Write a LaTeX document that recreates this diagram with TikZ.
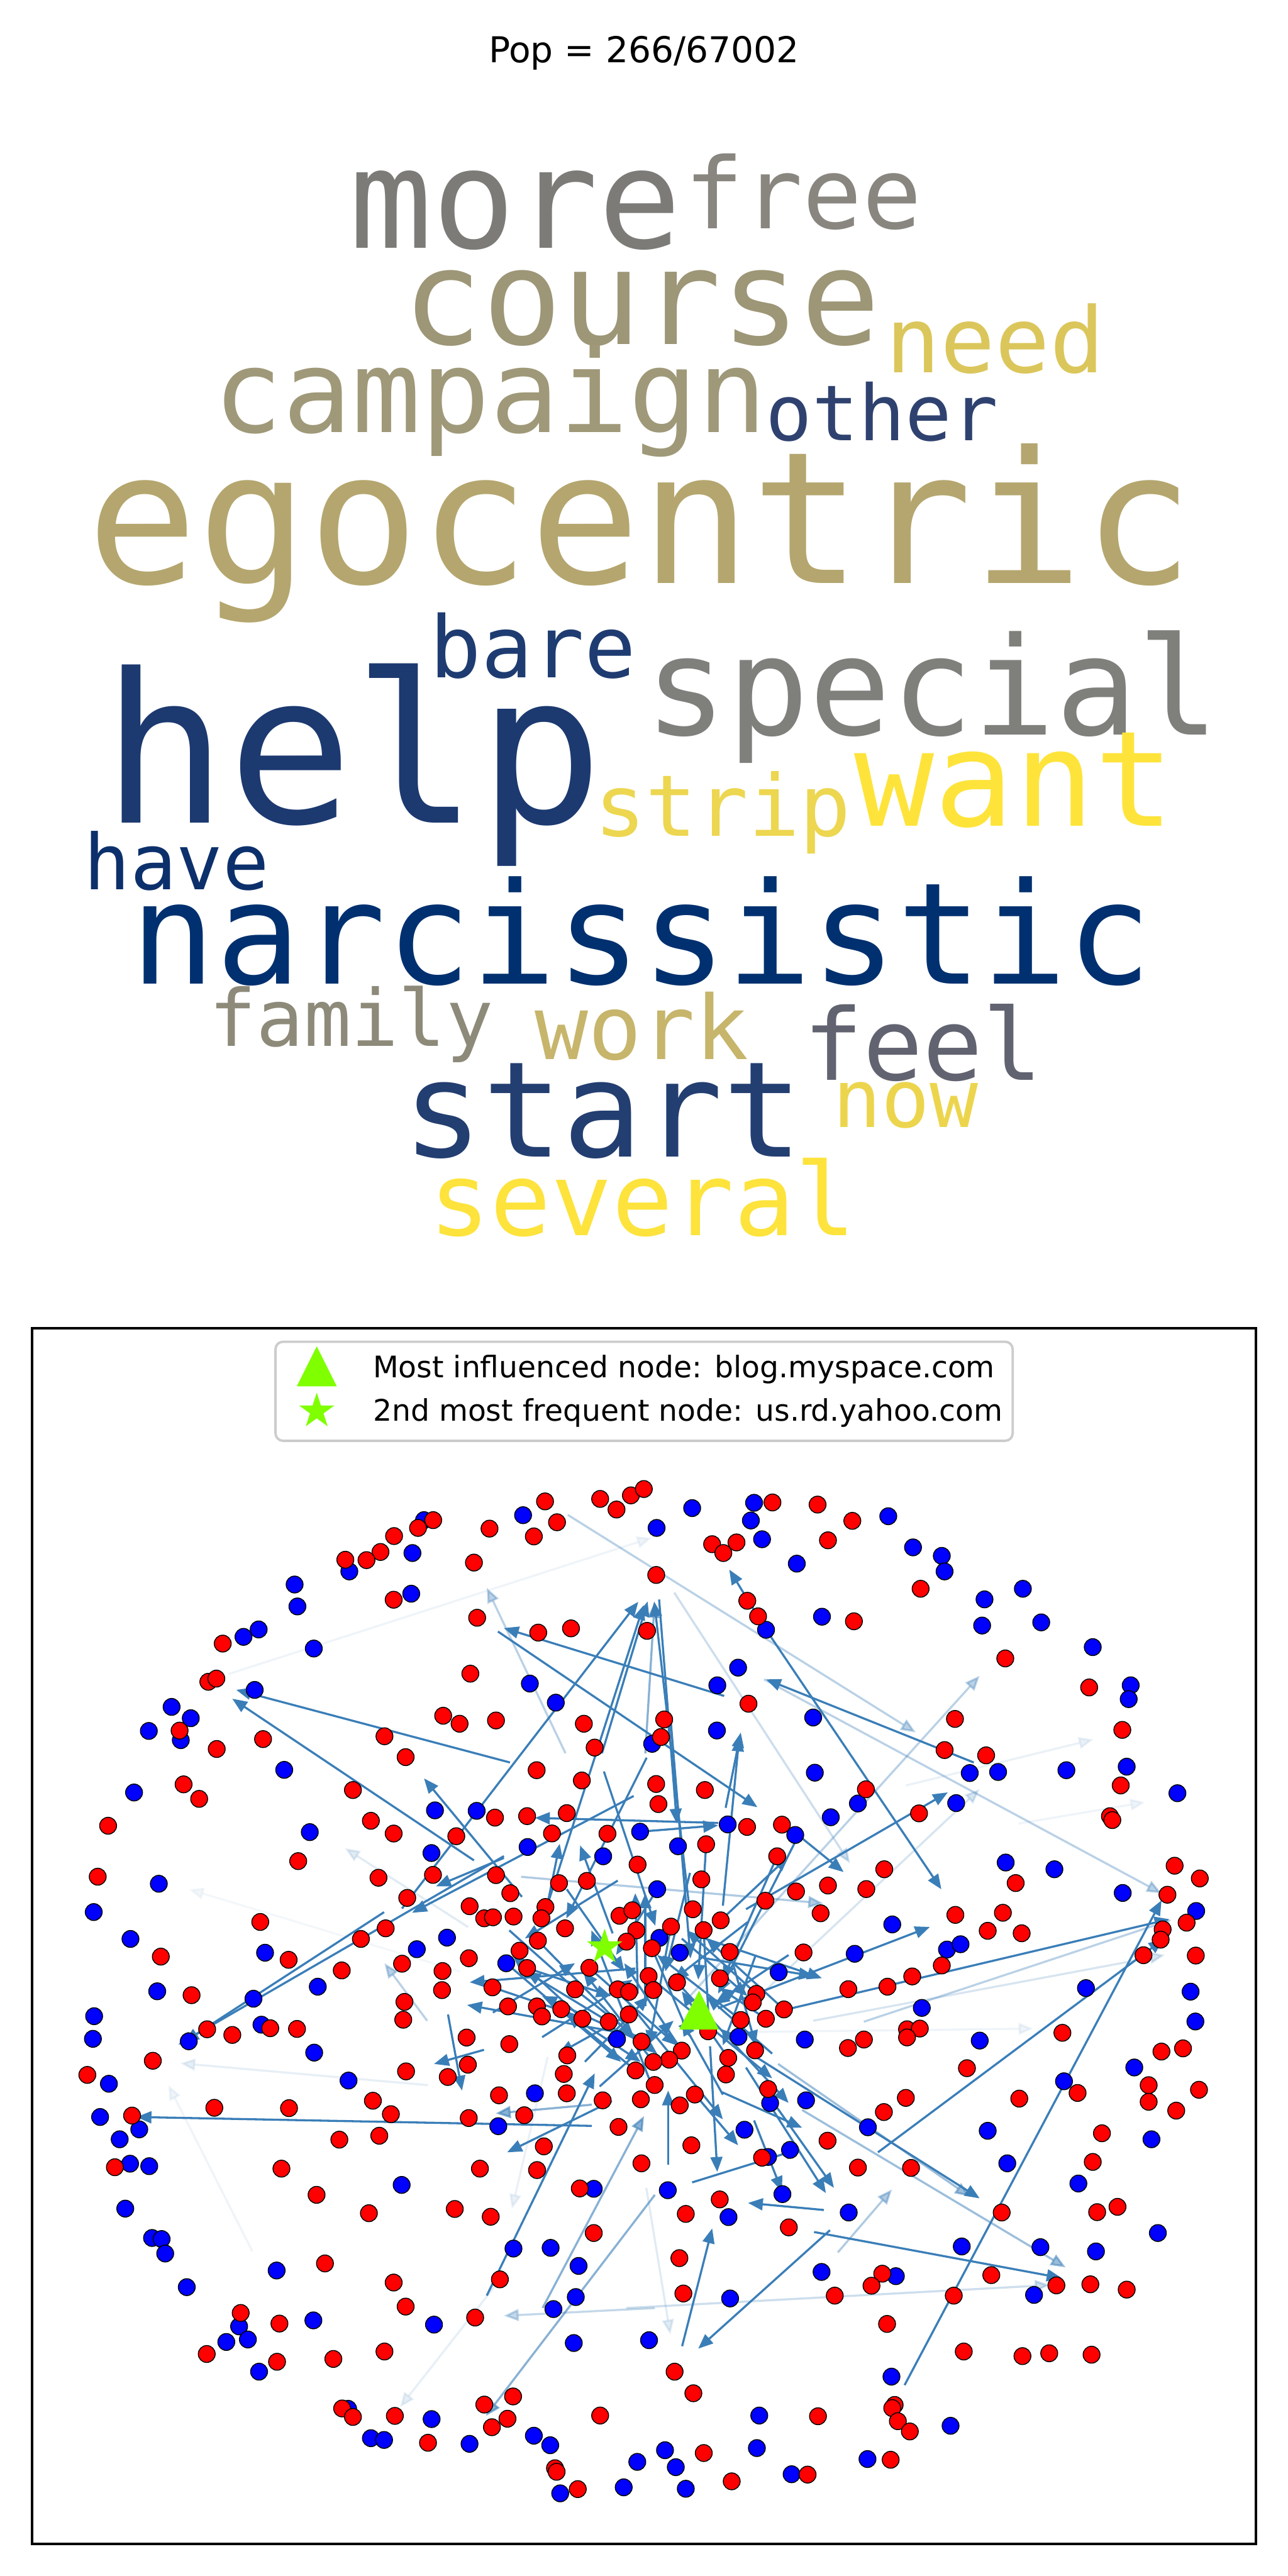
\documentclass[tikz,border=0pt]{standalone}
\usepackage{fontspec}
\setmainfont{DejaVu Sans}
\newfontfamily\cloudfont{DejaVu Sans Mono}
\usepackage{tikz}
\usetikzlibrary{arrows.meta, shapes.geometric}
\definecolor{edgeblue}{HTML}{3A7EB8}
\definecolor{hubgreen}{HTML}{7FFF00}
\definecolor{legedge}{HTML}{CCCCCC}
\definecolor{cMore}{HTML}{7C7B78}
\definecolor{cFree}{HTML}{898680}
\definecolor{cCourse}{HTML}{9D9677}
\definecolor{cNeed}{HTML}{DBC65B}
\definecolor{cCampaign}{HTML}{9F9979}
\definecolor{cOther}{HTML}{2F426F}
\definecolor{cEgo}{HTML}{B4A66E}
\definecolor{cBare}{HTML}{1E3C71}
\definecolor{cSpecial}{HTML}{7F7F7C}
\definecolor{cHelp}{HTML}{1C3970}
\definecolor{cStrip}{HTML}{EDD650}
\definecolor{cWant}{HTML}{FEE43A}
\definecolor{cHave}{HTML}{0C306B}
\definecolor{cNarc}{HTML}{00306F}
\definecolor{cFamily}{HTML}{8D8A7A}
\definecolor{cWork}{HTML}{C6B56B}
\definecolor{cFeel}{HTML}{626370}
\definecolor{cStart}{HTML}{233E70}
\definecolor{cNow}{HTML}{ECD54D}
\definecolor{cSeveral}{HTML}{FDE33C}
\newcommand\wsize[1]{\cloudfont\fontsize{#1}{#1}\selectfont}
\tikzset{
  word/.style     = {inner sep=0pt, anchor=base},
  rdot/.style     = {circle, draw=black, line width=0.3pt, fill=red,
                     minimum size=2mm, inner sep=0pt},
  bdot/.style     = {circle, draw=black, line width=0.3pt, fill=blue,
                     minimum size=2mm, inner sep=0pt},
  edge/.style     = {-{Triangle[length=5pt,width=4pt]}, line width=0.7pt,
                     draw=edgeblue},
  legbox/.style   = {rectangle, rounded corners=2.5pt, draw=legedge, line width=0.8pt,
                     fill=white, minimum width=8.722cm, minimum height=1.172cm,
                     inner sep=0pt},
  legtext/.style  = {anchor=base west, inner sep=0pt, font=\fontsize{10}{12}\selectfont},
  starmark/.style = {star, star points=5, star point ratio=2.618, fill=hubgreen,
                     inner sep=0pt, minimum size=4.4mm},
}

\begin{document}
\begin{tikzpicture}[x=0.019439cm, y=-0.019439cm]

  \fill[white] (0,0) rectangle (784,1568);
  \useasboundingbox (0,0) rectangle (784,1568);

  \node[anchor=base, inner sep=0pt, font=\fontsize{12}{14}\selectfont] (title) at (392,38) {Pop = 266/67002};

  \node[word, text=cMore, font=\wsize{46.5}] (more) at (313.8,151) {more};
  \node[word, text=cFree, font=\wsize{33.2}] (free) at (488.8,139) {free};
  \node[word, text=cCourse, font=\wsize{44.5}] (course) at (390.5,209.5) {course};
  \node[word, text=cNeed, font=\wsize{30.6}] (need) at (605.8,227) {need};
  \node[word, text=cCampaign, font=\wsize{38.7}] (campaign) at (298.3,263) {campaign};
  \node[word, text=cOther, font=\wsize{26}] (other) at (537,268) {other};
  \node[word, text=cEgo, font=\wsize{61.9}] (egocentric) at (390,355) {egocentric};
  \node[word, text=cBare, font=\wsize{28.8}] (bare) at (324.5,412.5) {bare};
  \node[word, text=cSpecial, font=\wsize{45.9}] (special) at (567.5,447.4) {special};
  \node[word, text=cHelp, font=\wsize{70.1}] (help) at (215,501) {help};
  \node[word, text=cStrip, font=\wsize{28.7}] (strip) at (440,509) {strip};
  \node[word, text=cWant, font=\wsize{44.7}] (want) at (617.5,503) {want};
  \node[word, text=cHave, font=\wsize{25.9}] (have) at (107.5,541.3) {have};
  \node[word, text=cNarc, font=\wsize{47.6}] (narcissistic) at (390.5,598.8) {narcissistic};
  \node[word, text=cFamily, font=\wsize{26.5}] (family) at (213.8,636.8) {family};
  \node[word, text=cWork, font=\wsize{29.9}] (work) at (390.8,644.8) {work};
  \node[word, text=cFeel, font=\wsize{33.5}] (feel) at (561.8,657.4) {feel};
  \node[word, text=cStart, font=\wsize{44.8}] (start) at (367,704) {start};
  \node[word, text=cNow, font=\wsize{27.1}] (now) at (551.3,686) {now};
  \node[word, text=cSeveral, font=\wsize{34.1}] (several) at (391.3,752) {several};

  \draw[line width=0.8pt] (19.5,808.5) rectangle (764.5,1548.6);

  \foreach \tx/\ty/\hx/\hy/\o [count=\k] in {
    310.4/1072.8/143.8/1028.6/1, 288.5/1132.4/141.4/1034.0/1, 440.8/1032.3/306.7/991.0/1,
    303.1/993.1/461/1100/1, 244.7/1161.7/388.5/975.0/1, 331.0/1166.4/391.8/977.0/1,
    317.7/1154.6/258.1/1082.5/1, 385.7/1093.2/250.8/1164.3/1, 306.7/1130.9/265.4/1148.2/1,
    306.7/1129.8/108.6/1244.5/1, 233.8/1163.9/112/1243/1, 437.1/1109.6/325.6/1106.5/1,
    376/1144.7/319.5/1179.9/1, 393.6/1069.9/344.7/1167.7/1, 333.5/1157.8/340.7/1122.3/1,
    360.2/1294.0/83.1/1288.6/1, 372.4/1278.9/308.7/1310.1/1, 294.6/1247.7/264.2/1256.3/1,
    272.7/1226.2/281.2/1272.5/1, 534.4/1310.1/708.2/1180.4/1, 550.6/1451.8/707/1156.7/1,
    477.2/1223.5/711.8/1168.2/1, 495.5/1358.6/646.2/1386.6/1, 505.2/1357.5/425/1429.6/1,
    415.2/1428.1/433.5/1356.4/1, 501.5/1345.2/455.3/1340.9/1, 421.3/1328.4/487/1308/1,
    406.7/1317.7/406.7/1272.5/1, 432.2/1245.5/436.6/1322/1, 454.1/1258.5/502.7/1334.9/1,
    466.3/1273.5/507.6/1331.7/1, 439.5/1273.5/488.2/1295.1/1, 420.1/1271.4/449.3/1305.8/1,
    456.6/1249.8/596.3/1338.1/1, 459/1290.7/476/1333.8/1, 437.1/1222.4/566/1172.9/1,
    427.4/1179.4/500.3/1204.1/1, 592.7/1072.8/466.3/1022.2/1, 466.3/992/443.9/955.4/1,
    466.3/992/573/1150/1, 485.7/1116.9/513.5/1139.5/1, 454.1/1162.1/576.9/1091/1,
    440/1160/450/1057/1, 420/1165/398.2/974.8/1, 296.3/1397.3/362/1262/1,
    401.2/973.6/412/1110/1, 389.8/1114.9/437.1/1111.1/1, 486.8/1115.7/437.1/1213.5/1,
    441.7/1100.4/450.9/1054.6/1, 386.7/1198.2/285.9/1206.6/1, 389.8/1239.5/284.3/1220.4/1,
    429/1192/495.4/1202.8/1, 372.9/1176.8/353.1/1123.3/1, 388.2/1213.5/386.7/1152.4/1,
    392.8/1221.1/392.8/1152.4/1, 408.1/1045.4/420.3/1192.1/1, 367.6/1078.3/398.9/1172.2/1,
    366.4/1067.2/394.2/974.8/1,
    398.6/1336/295.8/1470.5/0.6, 330.3/1404.8/392/1288/0.6, 392.8/1067.2/398.4/975.7/0.6,
    360.2/1281.1/301.8/1286.4/0.6,
    465.1/1022.2/707/1152.4/0.35, 345.6/922.1/557.4/1054.5/0.35, 488.2/1284.3/648.6/1380.1/0.5,
    473.6/1256.3/590.3/1337/0.5, 510/1371/542.9/1332.7/0.4, 420/1215/596.3/1020/0.35,
    344.2/1067.2/296.3/966.5/0.35, 398.6/1404.9/306.7/1409.6/0.3, 410.4/969.4/517.3/1134.1/0.25,
    381.2/1404.9/638.9/1390.9/0.25, 317.2/1142.4/501/1158.5/0.4, 459/1218/596.3/1089/0.2,
    525.8/1230.6/713/1168.6/0.35, 495/1230/709/1190/0.2,
    139/1019/396.7/936/0.08, 260.5/1269.2/109.8/1255.9/0.12, 153.6/1370.4/102.5/1269.2/0.08,
    304.3/1387.6/243.5/1465.2/0.12, 285/1173/210/1125/0.15, 260/1230/234/1195/0.35,
    393.4/1331.7/408/1420.9/0.15, 442/1237/629/1234.8/0.08, 551.4/1086.8/665.6/1058.8/0.1,
    620/1110/697/1097/0.08, 333.4/1252/311.6/1344.6/0.1, 280/1200/115/1150/0.06,
    386.9/1260.3/345/1226/1, 397.7/1255.1/355/1200/1, 415/1248.2/380/1195/1,
    443.2/1252.6/415/1212/1, 390.5/1242.7/330/1215/1, 466.2/1228.8/438/1210/1,
    450.9/1229.5/400/1190/1, 370.5/1230.6/320/1200/1, 354.5/1228.8/312/1190/1,
    477.2/1223.1/430/1180/1, 460.4/1213.6/418/1175/1, 341.6/1223/390/1255/1,
    350/1210.9/400/1250/1, 358.7/1197.8/412/1245/1, 327.4/1181.2/385/1240/1,
    308.2/1195/378/1255/1, 396.8/1185.8/420/1240/1, 428.3/1174.8/432/1240/1,
    408.4/1172.7/395/1245/1, 444.2/1188.1/460/1245/1, 473/1129.9/440/1205/1,
    429.8/1122.6/425/1205/1, 320.8/1197.9/372/1215/1, 299.8/1209.7/360/1230/1,
    438.7/1168.9/480/1130/1, 382.7/1226.2/340/1250/1, 394.8/1202.8/470/1265/1,
    412.1/1206.6/480/1280/1, 376/1210.9/440/1290/1,
    356/1255/395/1215/1, 330/1240/385/1205/1, 470/1250/430/1215/1, 300/1225/350/1195/1,
    455/1170/410/1205/1, 345/1150/380/1200/1, 420/1140/405/1200/1, 480/1190/435/1220/1,
    365/1270/410/1230/1, 440/1275/415/1230/1, 400/1150/375/1190/1, 310/1175/355/1215/1,
    395/1265/360/1175/1, 460/1190/440/1245/1, 415/1180/455/1215/1}{
    \coordinate (t\k) at (\tx,\ty);
    \coordinate (h\k) at (\hx,\hy);
    \draw[edge, opacity=\o] (t\k) -- (h\k);
  }

  \begin{scope}[shift={(17.42,893.0)}, xscale=0.2431, yscale=0.2153]
    \foreach \x/\y [count=\i] in {1238/136, 990/150, 961/243, 803/295, 666/332, 673/394,
      958/358, 538/480, 576/459, 714/513, 1255/612, 566/630, 1320/666, 358/678, 406/710,
      301/746, 381/772, 640/856, 264/920, 704/1032, 326/1178, 163/1258, 255/1334, 592/1373,
      972/1363, 724/1469, 322/1482, 563/1503}
      \node[bdot] (AB\i) at (\x,\y) {};
    \foreach \x/\y [count=\i] in {1293/97, 1431/90, 1472/120, 1508/80, 1323/156, 1265/196,
      1154/174, 1013/150, 975/172, 915/195, 881/240, 846/263, 793/262, 1115/270, 914/375,
      1123/426, 1276/468, 1358/456, 486/499, 1106/584, 450/607, 470/598, 378/745, 471/797,
      587/769, 1038/703, 891/761, 944/820, 388/897, 427/938, 812/913, 199/1014, 857/1000,
      914/1036, 675/1114, 876/1161, 948/1218, 173/1158, 580/1286, 331/1384, 651/1393,
      894/1304, 832/1334, 784/1423, 935/1404, 408/1493, 941/1512}
      \node[rdot] (AR\i) at (\x,\y) {};
  \end{scope}

  \begin{scope}[shift={(381.2,893.0)}, xscale=0.2431, yscale=0.2153]
    \foreach \x/\y [count=\i] in {165/116, 76/172, 320/101, 312/151, 656/139, 340/204,
      718/227, 790/251, 797/295, 427/273, 993/344, 897/374, 891/448, 1039/439, 350/460,
      490/423, 1168/509, 1263/617, 1258/656, 280/567, 228/617, 468/708, 860/865, 931/862,
      1102/857, 1253/847, 1380/922, 580/951, 826/950, 512/990, 950/1118, 1072/1137,
      1243/1204, 1427/1255, 666/1293, 803/1364, 837/1349, 572/1376, 1151/1473, 1413/1483,
      740/1529}
      \node[bdot] (BB\i) at (\x,\y) {};
    \foreach \x/\y [count=\i] in {44/62, 366/100, 479/106, 566/152, 505/207, 215/218,
      276/213, 243/243, 75/305, 737/344, 303/378, 330/422, 570/436, 52/463, 949/541,
      1159/623, 306/669, 823/712, 1242/743, 797/800, 901/815, 1238/900, 600/911, 733/979,
      1211/987, 1217/998, 1373/1127, 1436/1163, 975/1176, 646/1137, 505/1183, 601/1193,
      1355/1209, 1403/1288, 1343/1307, 1338/1336, 1295/1380, 1426/1381, 824/1266, 943/1260,
      905/1311, 990/1318, 790/1409, 716/1440, 654/1469, 556/1476}
      \node[rdot] (BR\i) at (\x,\y) {};
  \end{scope}

  \begin{scope}[shift={(17.42,1219.7)}, xscale=0.2431, yscale=0.2153]
    \foreach \x/\y [count=\i] in {164/35, 161/99, 201/226, 583/59, 401/106, 715/138,
      801/217, 179/320, 277/355, 228/383, 254/452, 302/459, 934/512, 242/579, 309/662,
      333/665, 342/706, 396/801, 621/754, 527/912, 495/956, 549/949, 713/895, 577/1040,
      1015/907, 1214/692, 1307/690, 1377/741, 1370/829, 1314/863, 1415/523, 1365/959,
      1176/346, 800/1145, 1009/1174, 857/1228, 890/1233, 1104/1244, 1265/1221, 1306/1248,
      1331/1384, 1490/1367, 1524/1295}
      \node[bdot] (CB\i) at (\x,\y) {};
    \foreach \x/\y [count=\i] in {147/201, 311/161, 447/72, 510/88, 605/69, 672/71,
      938/45, 945/191, 862/274, 907/312, 259/316, 465/294, 652/295, 778/384, 878/373,
      216/462, 633/466, 721/540, 852/592, 742/734, 914/788, 944/856, 531/874, 628/904,
      446/990, 622/1012, 763/1004, 891/983, 1118/887, 1067/580, 1157/602, 1130/466,
      1273/470, 1180/779, 1415/648, 1380/522, 1102/323, 1241/315, 1290/403, 1477/348,
      785/1144, 812/1168, 917/1165, 1000/1241, 1141/1133, 1213/1110, 1199/1173, 1160/1197,
      1318/1313, 1322/1323, 1375/1372, 1431/1164}
      \node[rdot] (CR\i) at (\x,\y) {};
  \end{scope}

  \begin{scope}[shift={(381.2,1219.7)}, xscale=0.2431, yscale=0.2153]
    \foreach \x/\y [count=\i] in {1425/50, 885/104, 1272/180, 1096/219, 905/359,
      1315/383, 605/349, 954/451, 1132/508, 355/433, 410/413, 296/356, 104/527, 256/603,
      391/538, 557/590, 1331/648, 840/686, 1037/688, 1176/700, 260/833, 489/758, 675/770,
      1021/823, 57/951, 664/1054, 812/1193, 333/1164, 97/1262, 124/1310, 327/1256,
      414/1330, 604/1287, 149/1371}
      \node[bdot] (DB\i) at (\x,\y) {};
    \foreach \x/\y [count=\i] in {1092/82, 853/182, 703/72, 735/70, 703/95, 595/101,
      555/125, 1340/135, 1394/126, 1308/230, 1308/277, 1434/243, 1377/302, 1130/252,
      984/268, 700/266, 645/306, 1191/366, 504/387, 1168/447, 713/464, 580/463, 38/451,
      163/400, 340/435, 234/553, 149/594, 407/632, 940/590, 1179/589, 1230/574, 133/719,
      143/819, 641/763, 614/797, 522/825, 914/767, 820/825, 1077/796, 1162/793, 1253/808,
      653/905, 845/983, 992/996, 1059/988, 1165/992, 121/1040, 168/1101, 672/1134,
      666/1143, 680/1180, 710/1209, 480/1166, 194/1270, 264/1350, 454/1331, 662/1289}
      \node[rdot] (DR\i) at (\x,\y) {};
  \end{scope}

  \begin{scope}[shift={(261.4,1045.4)}, scale=0.15281]
    \foreach \x/\y [count=\i] in {887/105, 1145/52, 1535/220, 22/370, 188/372, 391/516,
      839/455, 1188/426, 1457/468, 990/513, 692/553, 8/540, 907/684, 70/877, 916/878,
      997/937, 306/979, 1391/1015, 1231/1272, 1495/1283, 747/1281, 420/1497, 1357/1536,
      1500/1525}
      \node[bdot] (EB\i) at (\x,\y) {};
    \foreach \x/\y [count=\i] in {120/25, 265/12, 615/25, 935/8, 922/78, 658/120,
      427/210, 607/251, 903/265, 912/345, 1097/289, 261/399, 389/393, 547/381, 107/473,
      488/462, 709/463, 1265/436, 1404/427, 1102/505, 1385/553, 829/586, 14/627, 265/628,
      516/660, 627/651, 1083/645, 322/700, 1460/693, 1338/730, 1558/780, 160/752, 218/800,
      253/796, 335/793, 462/755, 446/800, 757/790, 808/768, 1049/764, 1160/808, 540/840,
      962/833, 824/848, 1092/847, 432/889, 785/893, 886/919, 359/929, 1196/934, 1490/936,
      157/959, 389/998, 637/997, 52/1010, 50/1086, 251/1075, 580/1083, 750/1083, 795/1093,
      873/1030, 892/1086, 986/1055, 1157/1039, 1302/1101, 1288/1135, 313/1151, 428/1151,
      448/1191, 525/1162, 609/1200, 714/1212, 794/1183, 1240/1205, 1340/1200, 1412/1163,
      1110/1250, 845/1291, 148/1275, 318/1301, 1297/1326, 1005/1327, 955/1363, 892/1372,
      1190/1356, 1181/1422, 549/1346, 153/1383, 73/1432, 535/1420, 821/1406, 897/1464,
      1057/1502, 547/1497, 277/1505, 690/1525, 842/1521, 997/1545, 1349/1480}
      \node[rdot] (ER\i) at (\x,\y) {};
  \end{scope}

  \coordinate (myspace) at (425.5,1223.6);
  \fill[hubgreen] (myspace) +(0,-11.9) -- +(-12.1,11.8) -- +(12.1,11.8) -- cycle;
  \node[starmark] (yahoo) at (368,1185.2) {};

  \node[legbox] (legend) at (392.05,846.85) {};
  \coordinate (legtri) at (192.8,831.7);
  \fill[hubgreen] (legtri) +(0,-12.2) -- +(-12.2,12.2) -- +(12.2,12.2) -- cycle;
  \node[starmark] (legstar) at (192.8,859) {};
  \node[legtext] (leg1) at (226.7,838.5) {Most influenced node: blog.myspace.com};
  \node[legtext] (leg2) at (226.7,864.9) {2nd most frequent node: us.rd.yahoo.com};

\end{tikzpicture}
\end{document}
